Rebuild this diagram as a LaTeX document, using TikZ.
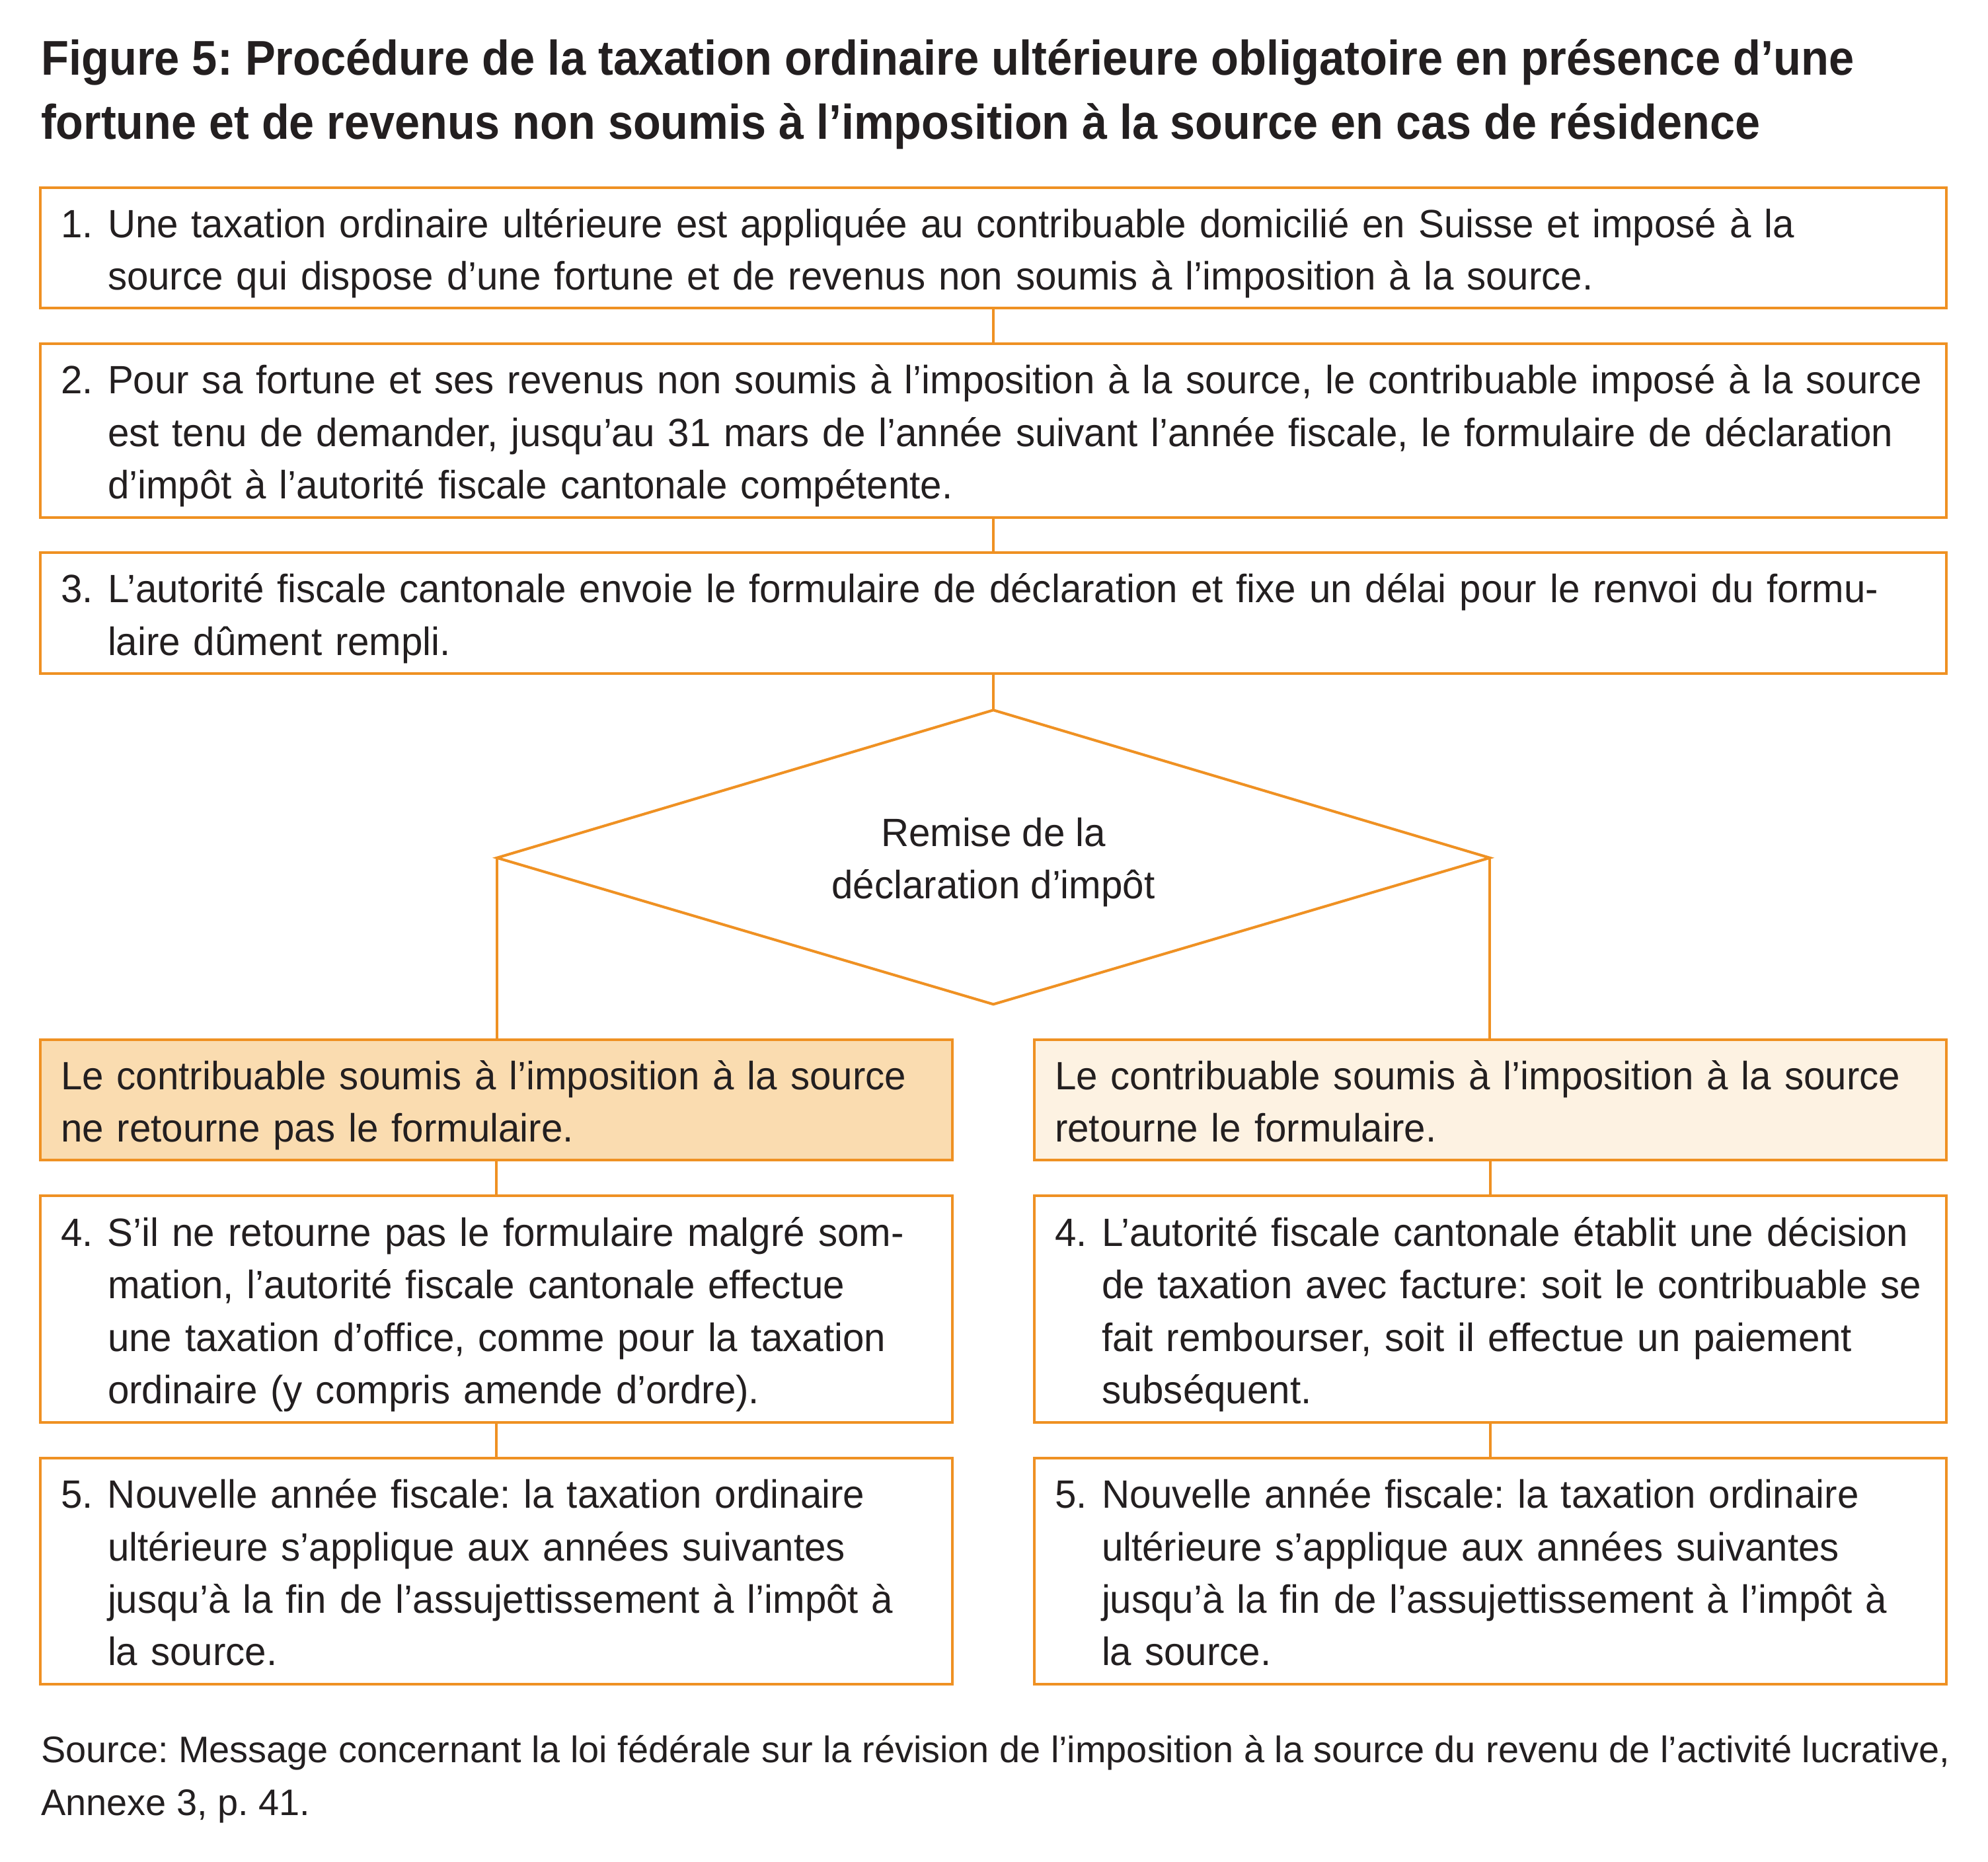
\documentclass[tikz,border=0pt]{standalone}
\usepackage{fontspec}
\usepackage{graphicx}
\setmainfont{Liberation Sans}
\newfontfamily\bodyfam[FakeStretch=0.975]{Liberation Sans}
\frenchspacing
\definecolor{oline}{RGB}{239,145,35}
\definecolor{fillA}{RGB}{250,220,176}
\definecolor{fillB}{RGB}{253,242,226}
\definecolor{ink}{RGB}{35,31,32}
\newcommand\bodyfont{\bodyfam\fontsize{17}{22.6}\selectfont\frenchspacing}
\newcommand\srcfont{\fontsize{15.9}{22.65}\selectfont\frenchspacing}
\newcommand\ttlfont{\fontsize{21}{28}\selectfont\bfseries\frenchspacing}
\newcommand\nm[1]{\makebox[20.2pt][l]{#1}}
\newcommand\ind{\hspace*{20.2pt}}
\newcommand\lns[1]{\raisebox{-2.3pt}[\height][\depth]{\begin{tabular}[c]{@{}l@{}}#1\end{tabular}}}
\tikzset{
  stepbox/.style={draw=oline, line width=1.15pt, rectangle, inner xsep=8.73pt, inner ysep=0pt,
    align=left, font=\bodyfont, text=ink},
  fullbox/.style={stepbox, minimum width=820.3pt, text width=802.9pt},
  halfbox/.style={stepbox, minimum width=392.4pt, text width=375.0pt},
  conn/.style={draw=oline, line width=1.15pt},
}
\begin{document}
\begin{tikzpicture}[x=0.5458pt,y=-0.5458pt]
\useasboundingbox[fill=white] (0,0) rectangle (1568,1468);
% title
\node[anchor=base west, inner sep=0pt, text=ink, font=\ttlfont] (t1) at (32,59)
  {\resizebox{780.5pt}{\height}{Figure 5: Procédure de la taxation ordinaire ultérieure obligatoire en présence d’une}};
\node[anchor=base west, inner sep=0pt, text=ink, font=\ttlfont] (t2) at (32,109.5)
  {\resizebox{740pt}{\height}{fortune et de revenus non soumis à l’imposition à la source en cas de résidence}};
% main boxes
\node[fullbox, minimum height=51.85pt] (b1) at (783.5,195.5)
  {\lns{\nm{1.}Une taxation ordinaire ultérieure est appliquée au contribuable domicilié en Suisse et imposé à la\\
   \ind source qui dispose d’une fortune et de revenus non soumis à l’imposition à la source.}};
\node[fullbox, minimum height=74.77pt] (b2) at (783.5,339.5)
  {\lns{\nm{2.}Pour sa fortune et ses revenus non soumis à l’imposition à la source, le contribuable imposé à la source\\
   \ind est tenu de demander, jusqu’au 31 mars de l’année suivant l’année fiscale, le formulaire de déclaration\\
   \ind d’impôt à l’autorité fiscale cantonale compétente.}};
\node[fullbox, minimum height=51.85pt] (b3) at (783.5,483.5)
  {\lns{\nm{3.}L’autorité fiscale cantonale envoie le formulaire de déclaration et fixe un délai pour le renvoi du formu-\\
   \ind laire dûment rempli.}};
% decision
\coordinate (dtop) at (783.5,560);
\coordinate (dleft) at (392,676.5);
\coordinate (dright) at (1175,676.5);
\coordinate (dbot) at (783.5,792);
\draw[conn, line join=miter] (dtop) -- (dright) -- (dbot) -- (dleft) -- cycle;
\node[inner sep=0pt, align=center, font=\bodyfont, text=ink] (dia) at (783.5,680)
  {Remise de la\\déclaration d’impôt};
% left column
\node[halfbox, fill=fillA, minimum height=51.85pt] (l1) at (391.5,867.5)
  {\lns{Le contribuable soumis à l’imposition à la source\\ne retourne pas le formulaire.}};
\node[halfbox, minimum height=97.7pt] (l2) at (391.5,1032.5)
  {\lns{\nm{4.}S’il ne retourne pas le formulaire malgré som-\\
   \ind mation, l’autorité fiscale cantonale effectue\\
   \ind une taxation d’office, comme pour la taxation\\
   \ind ordinaire (y compris amende d’ordre).}};
\node[halfbox, minimum height=97.15pt] (l3) at (391.5,1239)
  {\lns{\nm{5.}Nouvelle année fiscale: la taxation ordinaire\\
   \ind ultérieure s’applique aux années suivantes\\
   \ind jusqu’à la fin de l’assujettissement à l’impôt à\\
   \ind la source.}};
% right column
\node[halfbox, fill=fillB, minimum height=51.85pt] (r1) at (1175.5,867.5)
  {\lns{Le contribuable soumis à l’imposition à la source\\retourne le formulaire.}};
\node[halfbox, minimum height=97.7pt] (r2) at (1175.5,1032.5)
  {\lns{\nm{4.}L’autorité fiscale cantonale établit une décision\\
   \ind de taxation avec facture: soit le contribuable se\\
   \ind fait rembourser, soit il effectue un paiement\\
   \ind subséquent.}};
\node[halfbox, minimum height=97.15pt] (r3) at (1175.5,1239)
  {\lns{\nm{5.}Nouvelle année fiscale: la taxation ordinaire\\
   \ind ultérieure s’applique aux années suivantes\\
   \ind jusqu’à la fin de l’assujettissement à l’impôt à\\
   \ind la source.}};
% connectors
\draw[conn] (b1.south) -- (b2.north);
\draw[conn] (b2.south) -- (b3.north);
\draw[conn] (b3.south) -- (dtop);
\draw[conn] (dleft) -- (dleft |- l1.north);
\draw[conn] (dright) -- (dright |- r1.north);
\draw[conn] (l1.south) -- (l2.north);
\draw[conn] (l2.south) -- (l3.north);
\draw[conn] (r1.south) -- (r2.north);
\draw[conn] (r2.south) -- (r3.north);
% source
\node[anchor=base west, inner sep=0pt, text=ink, font=\srcfont] (src) at (32,1390)
  {\begin{tabular}[t]{@{}l@{}}Source: Message concernant la loi fédérale sur la révision de l’imposition à la source du revenu de l’activité lucrative,\\Annexe 3, p. 41.\end{tabular}};
\end{tikzpicture}
\end{document}
